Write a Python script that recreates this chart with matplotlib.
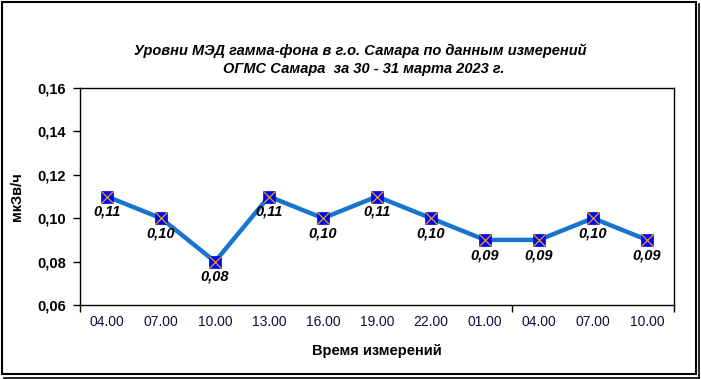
import matplotlib
matplotlib.use('Agg')
import matplotlib.pyplot as plt
from matplotlib.patches import Rectangle
from matplotlib.lines import Line2D

# данные
vremya = ['04.00', '07.00', '10.00', '13.00', '16.00', '19.00', '22.00', '01.00', '04.00', '07.00', '10.00']
med = [0.11, 0.10, 0.08, 0.11, 0.10, 0.11, 0.10, 0.09, 0.09, 0.10, 0.09]
y_ticks = [0.06, 0.08, 0.10, 0.12, 0.14, 0.16]

plt.rcParams['font.family'] = ['Liberation Sans', 'DejaVu Sans']

W, H = 701, 379
fig = plt.figure(figsize=(W / 100, H / 100), dpi=100)

# рамка вокруг диаграммы (с тенью)
fig.patches.append(Rectangle((1.5 / W, 1 - 373.5 / H), 694 / W, 372 / H, transform=fig.transFigure,
                             fill=False, edgecolor='black', linewidth=1.5))
fig.lines.append(Line2D([699 / W, 699 / W], [1 - 4 / H, 1 - 377.5 / H], transform=fig.transFigure,
                        color='black', linewidth=1.2))
fig.lines.append(Line2D([4 / W, 699 / W], [1 - 377.5 / H, 1 - 377.5 / H], transform=fig.transFigure,
                        color='black', linewidth=1.2))

ax = fig.add_axes([80 / W, 1 - 305 / H, 594 / W, 217 / H])
x = list(range(len(med)))
ax.plot(x, med, color='#1874CD', linewidth=3.2, zorder=2)
ax.plot(x, med, linestyle='none', marker='s', markersize=8.8, markerfacecolor='#0000FF',
        markeredgecolor='#0000FF', markeredgewidth=0.5, zorder=3)
ax.plot(x, med, linestyle='none', marker='x', markersize=8.2, markeredgecolor='#E8A020',
        markeredgewidth=0.9, zorder=4)

for xi, v in zip(x, med):
    ax.annotate(('%.2f' % v).replace('.', ','), (xi, v), xytext=(0, -11), textcoords='offset points',
                ha='center', va='center', fontsize=10.5, fontweight='bold', fontstyle='italic')

ax.set_xlim(-0.5, len(med) - 0.5)
ax.set_ylim(0.06, 0.16)
ax.set_yticks(y_ticks)
ax.set_yticklabels([('%.2f' % t).replace('.', ',') for t in y_ticks], fontsize=10.5, fontweight='bold')
ax.set_xticks([-0.5, 7.5, 10.5])
ax.set_xticklabels([])
for xi, lab in zip(x, vremya):
    ax.text(xi, -0.078, lab, transform=ax.get_xaxis_transform(), ha='center', va='center',
            fontsize=10, color='#101040')
ax.tick_params(axis='both', direction='out', length=5, width=1, color='black')
ax.tick_params(axis='y', pad=5)
for s in ax.spines.values():
    s.set_linewidth(1)

ax.set_ylabel('мкЗв/ч', fontsize=10.5, fontweight='bold')
ax.yaxis.set_label_coords(-0.094, 0.5)
ax.set_xlabel('Время измерений', fontsize=10.5, fontweight='bold')
ax.xaxis.set_label_coords(0.5, -0.18)

fig.text(360 / W, 1 - 51 / H, 'Уровни МЭД гамма-фона в г.о. Самара по данным измерений',
         ha='center', va='center', fontsize=10.5, fontweight='bold', fontstyle='italic')
fig.text(364 / W, 1 - 69 / H, 'ОГМС Самара  за 30 - 31 марта 2023 г.',
         ha='center', va='center', fontsize=10.5, fontweight='bold', fontstyle='italic')

fig.savefig('out.png', dpi=100)
